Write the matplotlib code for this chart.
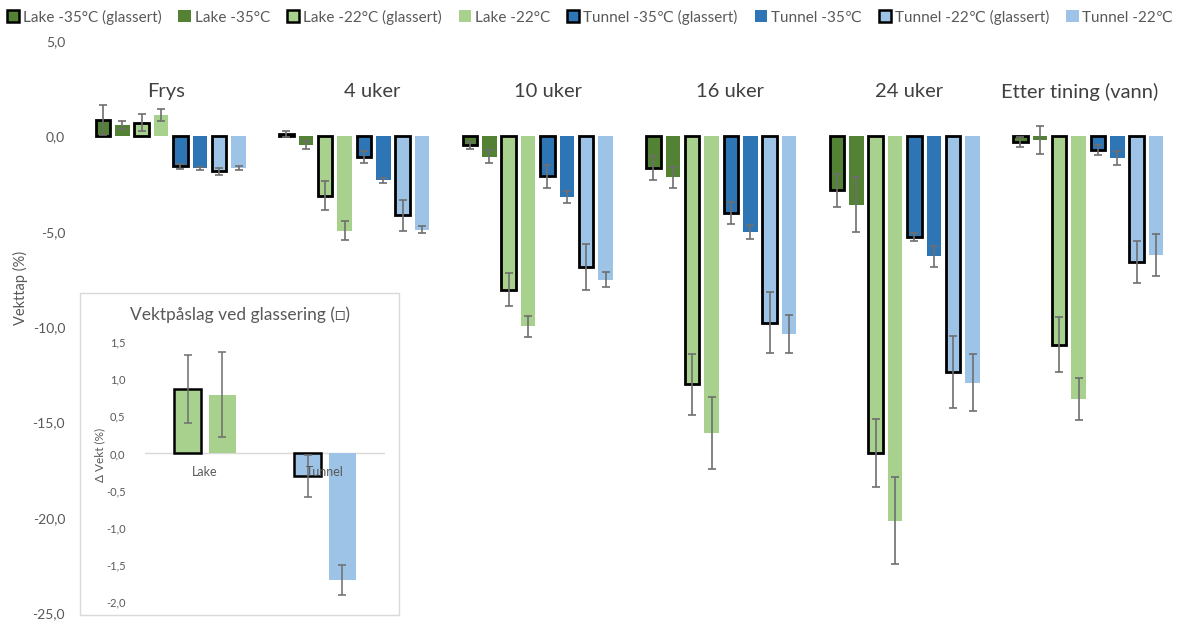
import matplotlib
matplotlib.use("Agg")
import matplotlib.pyplot as plt
from matplotlib.patches import Patch, Rectangle
import numpy as np

plt.rcParams['font.family'] = ['Lato', 'DejaVu Sans']

# ---- data -------------------------------------------------------------
groups = ["Frys", "4 uker", "10 uker", "16 uker", "24 uker", "Etter tining (vann)"]

series = [
    "Lake -35°C (glassert)", "Lake -35°C",
    "Lake -22°C (glassert)", "Lake -22°C",
    "Tunnel -35℃ (glassert)", "Tunnel -35℃",
    "Tunnel -22℃ (glassert)", "Tunnel -22℃",
]

# weight loss (%) per group, one row per series in the order above
lake35_g = [0.86, 0.12, -0.48, -1.67, -2.84, -0.30]
lake35 = [0.60, -0.45, -1.06, -2.14, -3.59, -0.20]
lake22_g = [0.72, -3.12, -8.04, -13.00, -16.60, -10.92]
lake22 = [1.11, -4.95, -9.96, -15.55, -20.15, -13.76]
tun35_g = [-1.58, -1.09, -2.10, -4.02, -5.28, -0.71]
tun35 = [-1.68, -2.31, -3.18, -5.02, -6.29, -1.14]
tun22_g = [-1.84, -4.15, -6.85, -9.78, -12.37, -6.59]
tun22 = [-1.65, -4.90, -7.51, -10.36, -12.92, -6.20]

lake35_g_err = [0.80, 0.15, 0.20, 0.63, 0.88, 0.25]
lake35_err = [0.23, 0.20, 0.33, 0.55, 1.44, 0.72]
lake22_g_err = [0.46, 0.76, 0.85, 1.60, 1.80, 1.45]
lake22_err = [0.33, 0.50, 0.55, 1.90, 2.30, 1.10]
tun35_g_err = [0.12, 0.33, 0.60, 0.58, 0.20, 0.25]
tun35_err = [0.06, 0.15, 0.30, 0.37, 0.55, 0.38]
tun22_g_err = [0.20, 0.80, 1.20, 1.60, 1.90, 1.10]
tun22_err = [0.10, 0.18, 0.38, 1.00, 1.50, 1.10]

values = [lake35_g, lake35, lake22_g, lake22, tun35_g, tun35, tun22_g, tun22]
errors = [lake35_g_err, lake35_err, lake22_g_err, lake22_err,
          tun35_g_err, tun35_err, tun22_g_err, tun22_err]

y_ticks = [5, 0, -5, -10, -15, -20, -25]

# weight gain from glazing (inset)
inset_cats = ["Lake", "Tunnel"]
gain_glazed = [0.87, -0.30]
gain_glazed_err = [0.46, 0.28]
gain_plain = [0.79, -1.70]
gain_plain_err = [0.57, 0.20]
inset_ticks = [1.5, 1.0, 0.5, 0.0, -0.5, -1.0, -1.5, -2.0]

# ---- style ------------------------------------------------------------
dark_green = "#548235"
light_green = "#A9D18E"
dark_blue = "#2E75B6"
light_blue = "#9DC3E6"
colors = [dark_green, dark_green, light_green, light_green,
          dark_blue, dark_blue, light_blue, light_blue]
glazed = [True, False, True, False, True, False, True, False]
txt_gray = "#595959"
err_gray = "#6e6e6e"

def comma(v):
    return f"{v:.1f}".replace(".", ",")

W, H = 1179, 621
fig = plt.figure(figsize=(W / 100, H / 100), dpi=100)

def px_box(x0, y0, x1, y1):
    return [x0 / W, 1 - y1 / H, (x1 - x0) / W, (y1 - y0) / H]

# ---- main chart ---------------------------------------------------------
ax = fig.add_axes(px_box(79, 41, 1180, 613))
x = np.arange(len(groups))
slot = 0.1057
bar_w = 0.079
for k in range(len(series)):
    pos = x + (k - 3.5) * slot
    ax.bar(pos, values[k], width=bar_w, color=colors[k],
           edgecolor="black" if glazed[k] else "none",
           linewidth=2.0 if glazed[k] else 0, zorder=2)
    ax.errorbar(pos, values[k], yerr=errors[k], fmt="none", ecolor=err_gray,
                elinewidth=1.2, capsize=3, capthick=1.2, zorder=3)

ax.set_xlim(-0.5, len(groups) - 0.5)
ax.set_ylim(-25, 5)
ax.set_yticks(y_ticks)
ax.set_yticklabels([comma(v) for v in y_ticks], color=txt_gray, fontsize=10)
ax.tick_params(axis="y", length=0, pad=10)
ax.set_xticks([])
for s in ax.spines.values():
    s.set_visible(False)

label_shift = [-0.024, 0.098, 0.055, 0.046, 0.025, -0.045]
for i, g in enumerate(groups):
    ax.text(i + label_shift[i], 2.35, g, ha="center", va="center",
            fontsize=14.5, color="#404040")

fig.text(20 / W, 1 - 288 / H, "Vekttap (%)", rotation=90, ha="center",
         va="center", fontsize=10.5, color=txt_gray)

# ---- legend ---------------------------------------------------------------
handles = [Patch(facecolor=colors[k], edgecolor="black" if glazed[k] else colors[k],
                 linewidth=1.8 if glazed[k] else 0) for k in range(len(series))]
fig.legend(handles, series, loc="center left", bbox_to_anchor=(0.003, 1 - 17 / H),
           ncol=8, frameon=False, fontsize=11, handlelength=0.8, handleheight=0.8,
           handletextpad=0.25, columnspacing=1.12, borderaxespad=0, borderpad=0.2,
           labelcolor=txt_gray)

# ---- inset ---------------------------------------------------------------
frame = Rectangle((80 / W, 1 - 615 / H), (399 - 80) / W, (615 - 293) / H,
                  transform=fig.transFigure, facecolor="white",
                  edgecolor="#d9d9d9", linewidth=1.0, zorder=2)
fig.patches.append(frame)

axi = fig.add_axes(px_box(145, 342, 385, 602))
axi.set_zorder(3)
axi.patch.set_alpha(0)
xi = np.arange(len(inset_cats))
off = 0.142
iw = 0.225
axi.bar(xi - off, gain_glazed, width=iw, color=[light_green, light_blue],
        edgecolor="black", linewidth=1.8, zorder=2)
axi.bar(xi + off, gain_plain, width=iw, color=[light_green, light_blue],
        edgecolor="none", zorder=2)
axi.errorbar(xi - off, gain_glazed, yerr=gain_glazed_err, fmt="none",
             ecolor=err_gray, elinewidth=1.1, capsize=3, capthick=1.1, zorder=3)
axi.errorbar(xi + off, gain_plain, yerr=gain_plain_err, fmt="none",
             ecolor=err_gray, elinewidth=1.1, capsize=3, capthick=1.1, zorder=3)
axi.axhline(0, color="#d9d9d9", linewidth=1.0, zorder=1)
axi.set_xlim(-0.5, 1.5)
axi.set_ylim(-2.0, 1.5)
axi.set_yticks(inset_ticks)
axi.set_yticklabels([comma(v) for v in inset_ticks], color=txt_gray, fontsize=8)
axi.tick_params(axis="y", length=0, pad=14)
axi.set_xticks([])
for s in axi.spines.values():
    s.set_visible(False)
for i, c in enumerate(inset_cats):
    axi.text(i, -0.25, c, ha="center", va="center", fontsize=9,
             color=txt_gray, zorder=4)

fig.text(239.5 / W, 1 - 315 / H, "Vektpåslag ved glassering (□)", ha="center",
         va="center", fontsize=12.5, color=txt_gray, zorder=4)
fig.text(100 / W, 1 - 455 / H, "Δ Vekt (%)", rotation=90, ha="center",
         va="center", fontsize=8.5, color=txt_gray, zorder=4)

fig.savefig("out.png", dpi=100)
